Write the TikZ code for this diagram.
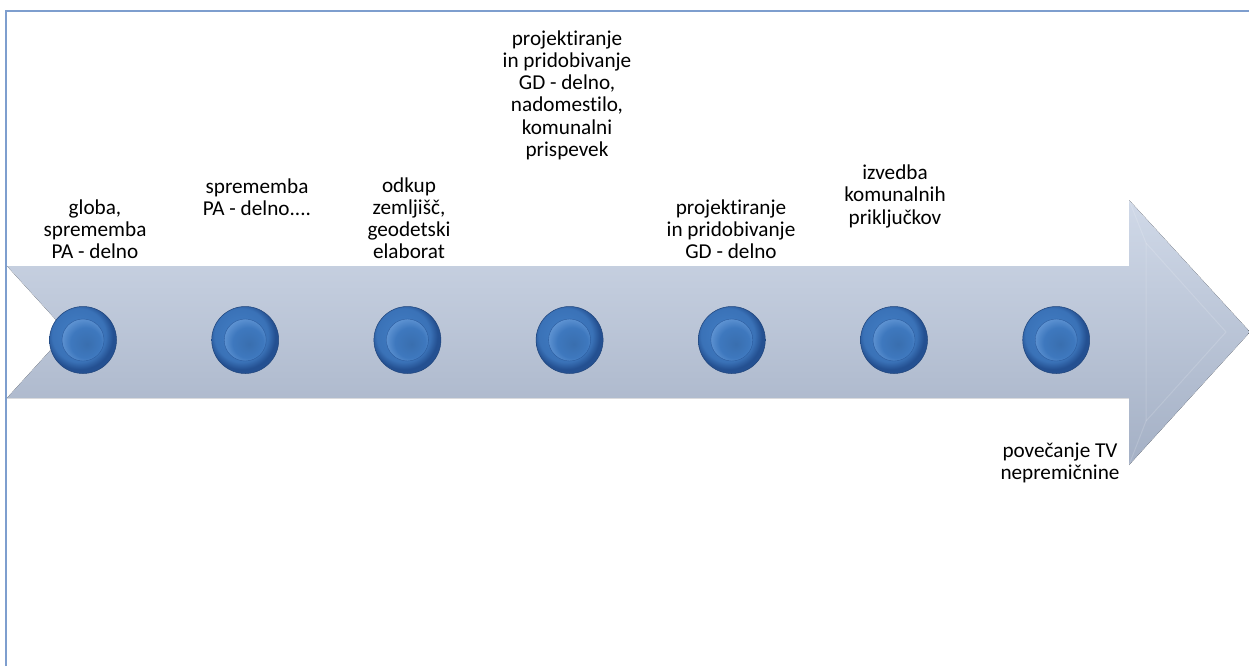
\documentclass[tikz,border=0pt]{standalone}
\usepackage{fontspec}
\setmainfont{Carlito}[Ligatures=NoCommon]
\usepackage{tikz}
\usetikzlibrary{positioning}

\definecolor{framecol}{RGB}{126,158,206}
\definecolor{arrtop}{RGB}{208,217,232}
\definecolor{arrbot}{RGB}{164,176,197}
\definecolor{dotouter}{RGB}{36,80,145}
\definecolor{dotmid}{RGB}{62,120,190}
\definecolor{dotlight}{RGB}{100,152,214}

\pgfdeclareradialshading{btnouter}{\pgfpoint{-5bp}{6bp}}{color(0bp)=(dotlight);
  color(10bp)=(dotmid); color(20bp)=(dotmid!85!dotouter); color(25bp)=(dotouter);
  color(50bp)=(dotouter)}
\pgfdeclareradialshading{btncore}{\pgfpoint{5bp}{-5bp}}{color(0bp)=(dotmid!92!black);
  color(18bp)=(dotmid); color(30bp)=(dotlight); color(50bp)=(dotlight)}

\tikzset{
  dot/.style={circle,minimum size=67pt,inner sep=0pt,shading=btnouter,
    draw=dotouter!85!black,line width=0.5pt},
  dotcore/.style={circle,minimum size=42pt,inner sep=0pt,shading=btncore,
    draw=dotouter!70!dotmid,line width=0.4pt},
  lbl/.style={align=center,inner sep=0pt,anchor=south,
    font=\fontsize{21.2}{22.2}\selectfont}
}

\begin{document}
\begin{tikzpicture}[x=1pt,y=-1pt,node distance=162.2pt,on grid]
    \useasboundingbox (0,0) rectangle (1249,666);
    % the big arrow
    \fill[top color=arrtop,bottom color=arrbot]
    (7,266) -- (1129,266) -- (1129,200) -- (1250,332) -- (1129,465)
    -- (1129,398) -- (7,398) -- (67,332) -- cycle;
    \draw[white,opacity=0.15,line width=1pt]
    (1129,200) -- (1146,243) -- (1146,421) -- (1129,465);
    \draw[white,opacity=0.15,line width=1pt]
    (1146,243) -- (1226,332) -- (1146,421);
    % frame
    \draw[framecol,line width=2pt] (6,666) -- (6,11) -- (1249,11);
    % buttons
    \node[dot] (d1) at (83,340) {};
    \node[dot] (d2) [right=of d1] {};
    \node[dot] (d3) [right=of d2] {};
    \node[dot] (d4) [right=of d3] {};
    \node[dot] (d5) [right=of d4] {};
    \node[dot] (d6) [right=of d5] {};
    \node[dot] (d7) [right=of d6] {};
    \node[dotcore] (c1) at (d1) {};
    \node[dotcore] (c2) at (d2) {};
    \node[dotcore] (c3) at (d3) {};
    \node[dotcore] (c4) at (d4) {};
    \node[dotcore] (c5) at (d5) {};
    \node[dotcore] (c6) at (d6) {};
    \node[dotcore] (c7) at (d7) {};
    % labels
    \node[lbl] (l1) at (95,259) {globa,\\ sprememba\\ PA - delno};
    \node[lbl] (l2) at (257,216) {sprememba\\ PA - delno....};
    \node[lbl] (l3) at (409,259) {odkup\\ zemljišč,\\ geodetski\\ elaborat};
    \node[lbl] (l4) at (567,160) {projektiranje\\ in pridobivanje\\ GD - delno,\\ nadomestilo,\\ komunalni\\ prispevek};
    \node[lbl] (l5) at (731,259) {projektiranje\\ in pridobivanje\\ GD - delno};
    \node[lbl] (l6) at (895,228) {izvedba\\ komunalnih\\ priključkov};
    \node[lbl] (l7) at (1060,483) {povečanje TV\\ nepremičnine};
\end{tikzpicture}
\end{document}
